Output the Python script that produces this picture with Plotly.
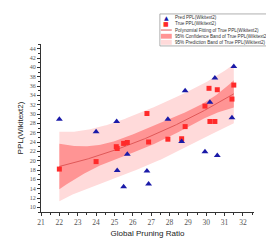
import numpy as np
import plotly.graph_objects as go

# ---- data ----
pred_x = [22.0, 24.0, 25.12, 25.15, 25.5, 25.7, 26.77, 26.86, 27.91, 28.66, 28.85,
          29.93, 30.2, 30.47, 30.6, 31.4, 31.5]
pred_y = [28.9, 26.2, 28.4, 17.9, 14.4, 21.4, 17.8, 15.0, 28.9, 24.1, 35.0,
          21.9, 32.5, 37.7, 21.1, 29.2, 40.2]

true_x = [22.0, 24.0, 25.1, 25.15, 25.5, 25.7, 26.77, 26.86, 27.91, 28.66, 28.85,
          29.93, 30.15, 30.2, 30.47, 30.6, 31.4, 31.5]
true_y = [18.2, 19.8, 23.0, 22.6, 23.7, 23.9, 30.1, 24.0, 24.6, 24.7, 27.3,
          31.7, 35.5, 28.4, 28.4, 35.2, 33.2, 36.2]

legend_labels = ["Pred PPL(Wikitext2)", "True PPL(Wikitext2)",
                 "Polynomial Fitting of True PPL(Wikitext2)",
                 "95% Confidence Band of True PPL(Wikitext2)",
                 "95% Prediction Band of True PPL(Wikitext2)"]
x_title = "Global Pruning Ratio"
y_title = "PPL(Wikitext2)"

# ---- polynomial fit with bands (derived from true data) ----
tx = np.array(true_x); ty = np.array(true_y)
deg = 2
X = np.vander(tx, deg + 1)
beta, *_ = np.linalg.lstsq(X, ty, rcond=None)
resid = ty - X @ beta
n, p = X.shape
s2 = resid @ resid / (n - p)
XtXi = np.linalg.inv(X.T @ X)
tval = 2.131  # t(0.975, df=15)
xf = np.linspace(tx.min(), tx.max(), 120)
Xf = np.vander(xf, deg + 1)
yf = Xf @ beta
lev = np.einsum('ij,jk,ik->i', Xf, XtXi, Xf)
ci = tval * np.sqrt(s2 * lev)
pi = tval * np.sqrt(s2 * (1 + lev))

BLUE = "#1a1aa8"
RED = "#ff2a2a"
LINE = "#e05858"
CONF = "#ff9494"
PRED = "#ffdada"

fig = go.Figure()
fig.add_trace(go.Scatter(x=np.concatenate([xf, xf[::-1]]),
                         y=np.concatenate([yf + pi, (yf - pi)[::-1]]),
                         fill="toself", fillcolor=PRED, line=dict(width=0),
                         mode="lines", hoverinfo="skip", showlegend=False))
fig.add_trace(go.Scatter(x=np.concatenate([xf, xf[::-1]]),
                         y=np.concatenate([yf + ci, (yf - ci)[::-1]]),
                         fill="toself", fillcolor=CONF, line=dict(width=0),
                         mode="lines", hoverinfo="skip", showlegend=False))
fig.add_trace(go.Scatter(x=xf, y=yf, mode="lines", line=dict(color=LINE, width=1),
                         showlegend=False))
fig.add_trace(go.Scatter(x=true_x, y=true_y, mode="markers",
                         marker=dict(symbol="square", size=5, color=RED),
                         showlegend=False))
fig.add_trace(go.Scatter(x=pred_x, y=pred_y, mode="markers",
                         marker=dict(symbol="triangle-up", size=6, color=BLUE),
                         showlegend=False))

# ---- manual compact legend (pixel helpers) ----
L, R, T, B = 31, 246, 36, 209.3
def px(v): return (v - L) / (R - L)
def py(v): return (B - v) / (B - T)

shapes = [dict(type="rect", xref="paper", yref="paper",
               x0=px(151), x1=px(266), y0=py(38), y1=py(5),
               line=dict(color="#9a9a9a", width=0.8), fillcolor="white", layer="above")]
rows = [8.7, 15.2, 21.6, 28.0, 34.3]
shapes.append(dict(type="line", xref="paper", yref="paper", x0=px(152), x1=px(163),
                   y0=py(rows[2]), y1=py(rows[2]), line=dict(color=LINE, width=1), layer="above"))
shapes.append(dict(type="rect", xref="paper", yref="paper", x0=px(152), x1=px(163),
                   y0=py(rows[3] + 2.5), y1=py(rows[3] - 2.5), line=dict(width=0),
                   fillcolor=CONF, layer="above"))
shapes.append(dict(type="rect", xref="paper", yref="paper", x0=px(152), x1=px(163),
                   y0=py(rows[4] + 2.5), y1=py(rows[4] - 2.5), line=dict(width=0),
                   fillcolor=PRED, layer="above"))
annotations = []
annotations.append(dict(xref="paper", yref="paper", x=px(157.5), y=py(rows[0]),
                        text="▲", showarrow=False, font=dict(size=6, color=BLUE,
                        family="DejaVu Sans"), xanchor="center", yanchor="middle"))
annotations.append(dict(xref="paper", yref="paper", x=px(157.5), y=py(rows[1]),
                        text="■", showarrow=False, font=dict(size=6, color=RED,
                        family="DejaVu Sans"), xanchor="center", yanchor="middle"))
for r, lab in zip(rows, legend_labels):
    annotations.append(dict(xref="paper", yref="paper", x=px(164), y=py(r), text=lab,
                            showarrow=False, xanchor="left", yanchor="middle",
                            font=dict(size=4.6, color="#333", family="Liberation Sans")))

fig.update_layout(
    width=274, height=241,
    margin=dict(l=31, r=28, t=36, b=32),
    paper_bgcolor="white", plot_bgcolor="white",
    shapes=shapes, annotations=annotations,
    showlegend=False,
)
fig.update_xaxes(range=[21, 32.6], dtick=1, tick0=21, showgrid=False, zeroline=False,
                 showline=True, linecolor="#333", linewidth=1, ticks="outside",
                 ticklen=3, tickcolor="#333",
                 minor=dict(dtick=0.5, ticks="outside", ticklen=2, tickcolor="#333"),
                 tickfont=dict(size=7.5, color="#555", family="Liberation Serif"),
                 title=dict(text=x_title, font=dict(size=8, color="#222",
                            family="Liberation Sans"), standoff=4))
fig.update_yaxes(range=[9, 45], dtick=2, tick0=10, showgrid=False, zeroline=False,
                 showline=True, linecolor="#333", linewidth=1, ticks="outside",
                 ticklen=3, tickcolor="#333",
                 minor=dict(dtick=1, ticks="outside", ticklen=2, tickcolor="#333"),
                 tickfont=dict(size=6, color="#555", family="Liberation Serif"),
                 title=dict(text=y_title, font=dict(size=8, color="#222",
                            family="Liberation Sans"), standoff=4))

fig.write_html("out.html")
